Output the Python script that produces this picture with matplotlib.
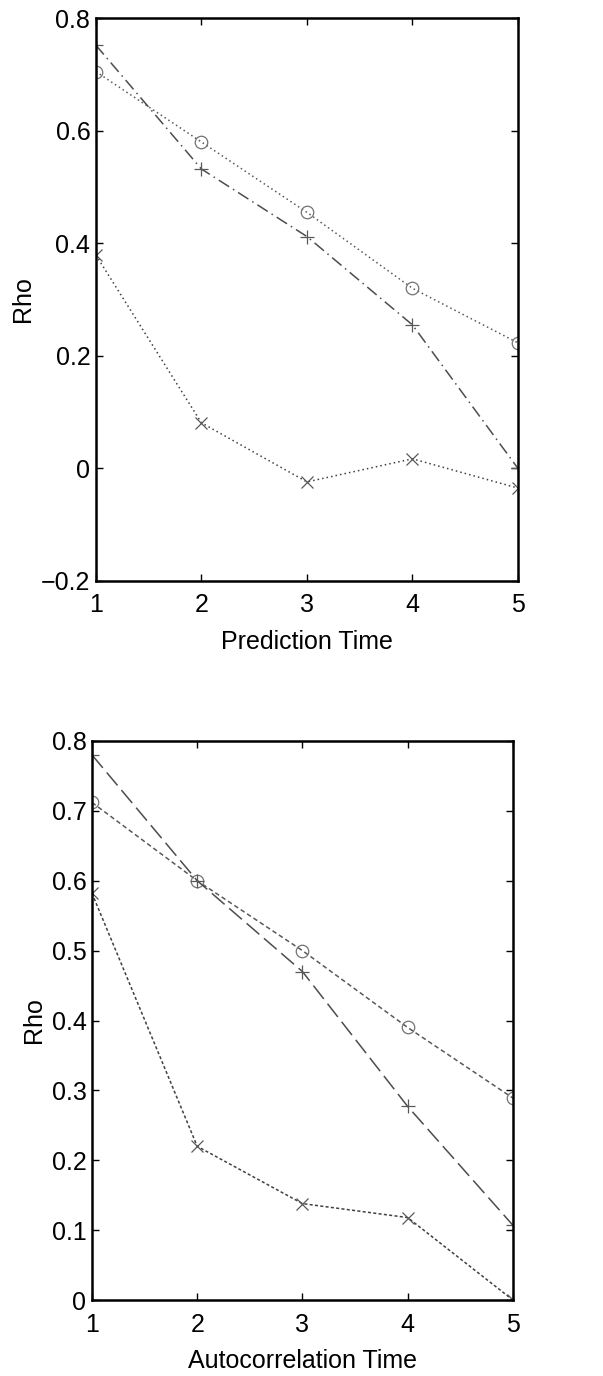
import numpy as np
import matplotlib
matplotlib.use('Agg')
import matplotlib.pyplot as plt

# Data
steps = [1, 2, 3, 4, 5]

pred_circle = [0.705, 0.58, 0.455, 0.32, 0.223]
pred_plus = [0.752, 0.532, 0.412, 0.255, 0.0]
pred_cross = [0.379, 0.081, -0.024, 0.017, -0.035]

auto_circle = [0.712, 0.60, 0.50, 0.39, 0.289]
auto_plus = [0.78, 0.60, 0.47, 0.277, 0.107]
auto_cross = [0.582, 0.22, 0.138, 0.118, 0.0]

pred_yticks = [-0.2, 0, 0.2, 0.4, 0.6, 0.8]
pred_ylabels = ['\u22120.2', '0', '0.2', '0.4', '0.6', '0.8']
auto_yticks = [0, 0.1, 0.2, 0.3, 0.4, 0.5, 0.6, 0.7, 0.8]
auto_ylabels = ['0', '0.1', '0.2', '0.3', '0.4', '0.5', '0.6', '0.7', '0.8']

plt.rcParams['font.family'] = ['Liberation Sans', 'DejaVu Sans']

fig = plt.figure(figsize=(6.03, 13.76), dpi=100)


def draw_panel(ax, circle, plus, cross, styles, yticks, ylabels, xlabel):
    ls_c, ls_p, ls_x = styles
    ax.plot(steps, circle, linestyle=ls_c, color='0.35', lw=1.1,
            marker='o', mfc='none', mec='0.45', ms=9, mew=0.9)
    ax.plot(steps, plus, linestyle=ls_p, color='0.3', lw=1.1,
            marker='+', mec='0.35', ms=10, mew=0.9)
    ax.plot(steps, cross, linestyle=ls_x, color='0.25', lw=1.1,
            marker='x', mec='0.35', ms=9, mew=0.9)
    ax.set_xlim(1, 5)
    ax.set_ylim(yticks[0], yticks[-1])
    ax.set_xticks(steps)
    ax.set_yticks(yticks)
    ax.set_yticklabels(ylabels)
    ax.tick_params(direction='in', top=True, right=True, length=5,
                   labelsize=18, width=1.0)
    ax.tick_params(axis='x', pad=9)
    ax.tick_params(axis='y', pad=4)
    ax.set_xlabel(xlabel, fontsize=18, labelpad=9)
    ax.set_ylabel('Rho', fontsize=18, labelpad=4)
    for s in ax.spines.values():
        s.set_linewidth(1.8)


ax1 = fig.add_axes([0.159, 0.5778, 0.700, 0.409])
draw_panel(ax1, pred_circle, pred_plus, pred_cross,
           [(0, (1, 2)), (0, (8, 3, 1, 3)), (0, (1, 2))],
           pred_yticks, pred_ylabels, 'Prediction Time')

ax2 = fig.add_axes([0.1526, 0.0552, 0.698, 0.4063])
draw_panel(ax2, auto_circle, auto_plus, auto_cross,
           [(0, (3, 2)), (0, (11, 4)), (0, (2, 1.5))],
           auto_yticks, auto_ylabels, 'Autocorrelation Time')

fig.savefig('out.png', dpi=100)
